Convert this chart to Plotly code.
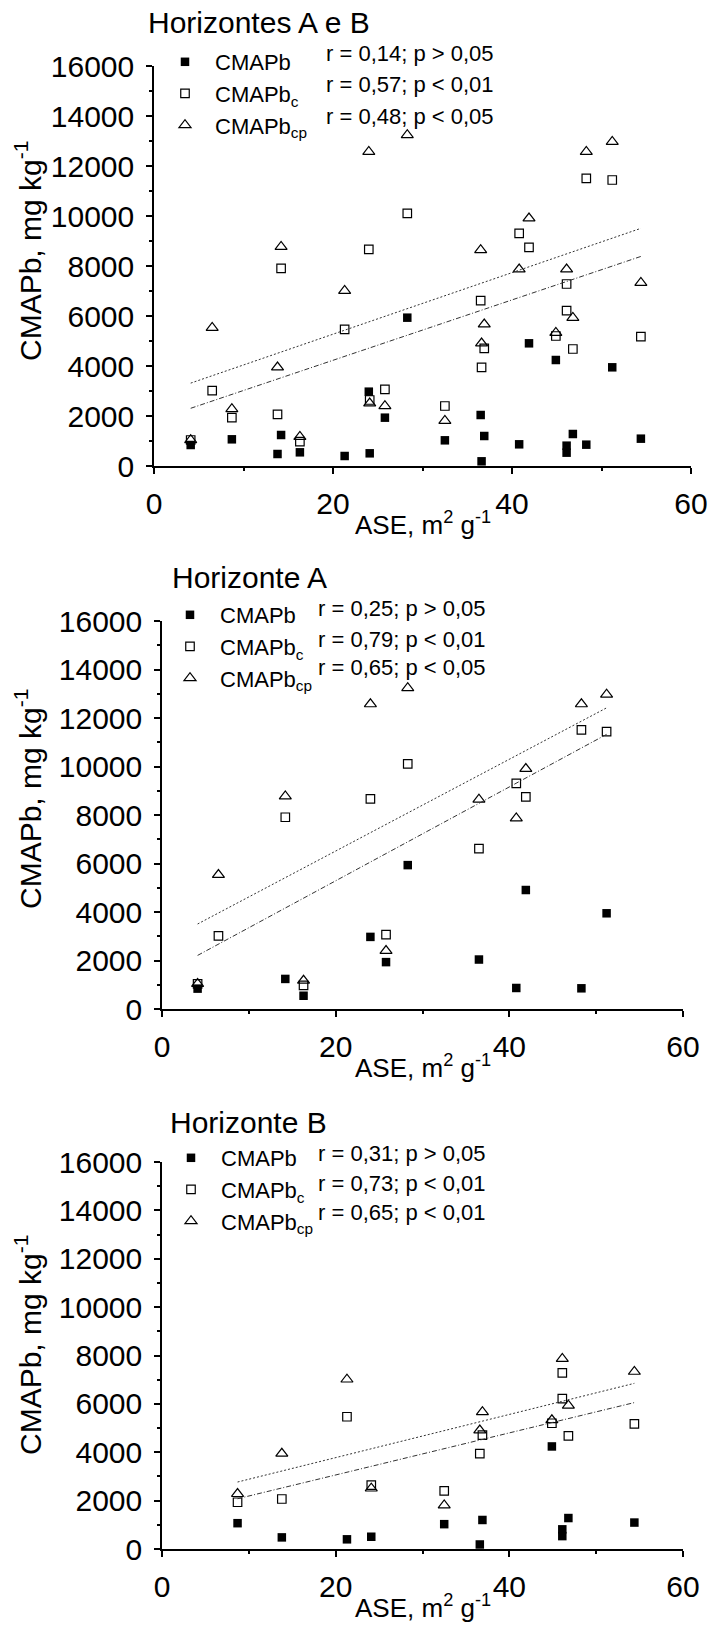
import numpy as np
import plotly.graph_objects as go

W, H = 712, 1631
FONT = "Liberation Sans, Arial, sans-serif"

# ---- Horizonte A: ASE (m2/g) and lead fractions (mg/kg) ----
ase_a = [4.1, 6.5, 14.2, 16.3, 24.0, 25.8, 28.3, 36.5, 40.8, 41.9, 48.3, 51.2]
cmapb_a = [840, None, 1240, 547, 2973, 1933, 5933, 2040, 867, 4907, 853, 3947]
cmapb_c_a = [1040, 3013, 7907, 973, 8667, 3067, 10107, 6613, 9307, 8747, 11507, 11440]
cmapb_cp_a = [1040, 5533, 8773, 1173, 12573, 2400, 13240, 8640, 7867, 9907, 12573, 12973]

# ---- Horizonte B ----
ase_b = [8.7, 13.8, 21.3, 24.1, 32.5, 36.6, 36.9, 44.9, 46.1, 46.1, 46.8, 54.4]
cmapb_b = [1067, 480, 400, 507, 1027, 187, 1200, 4240, 813, 533, 1280, 1093]
cmapb_c_b = [1933, 2067, 5467, 2640, 2400, 3947, 4707, 5200, 7280, 6213, 4680, 5173]
cmapb_cp_b = [2280, 3947, 7013, 2507, 1813, 4907, 5667, 5333, 7867, None, 5933, 7333]

panel_titles = ["Horizontes A e B", "Horizonte A", "Horizonte B"]
series_names = ["CMAPb", "CMAPb<sub>c</sub>", "CMAPb<sub>cp</sub>"]
stats_text = [
    ["r = 0,14; p > 0,05", "r = 0,57; p < 0,01", "r = 0,48; p < 0,05"],
    ["r = 0,25; p > 0,05", "r = 0,79; p < 0,01", "r = 0,65; p < 0,05"],
    ["r = 0,31; p > 0,05", "r = 0,73; p < 0,01", "r = 0,65; p < 0,01"],
]

panels_data = [
    (ase_a + ase_b, [cmapb_a + cmapb_b, cmapb_c_a + cmapb_c_b, cmapb_cp_a + cmapb_cp_b]),
    (ase_a, [cmapb_a, cmapb_c_a, cmapb_cp_a]),
    (ase_b, [cmapb_b, cmapb_c_b, cmapb_cp_b]),
]

# plot-area boxes in pixels: left, right, top, bottom
boxes = [(154, 691, 66, 466), (162, 683, 621, 1009), (162, 683, 1162, 1549)]
title_pos = [(259, 22), (249, 578), (248, 1122)]
legend_rows = [(59, 84, 117), (612, 639, 668), (1155, 1183, 1212)]
stats_rows = [(54, 84, 117), (608, 639, 668), (1153, 1183, 1212)]
legend_marker_x = [185, 190, 191]
stats_x = [324, 316, 316]
ytitle_y = [251, 799, 1345]

markers = [
    dict(symbol="square", size=8.5, color="black", line=dict(width=0)),
    dict(symbol="square-open", size=8.5, color="black", line=dict(width=1.2)),
    dict(symbol="triangle-up-open", size=10.5, color="black", line=dict(width=1.2)),
]
fit_styles = {1: "5px,2px,1px,2px", 2: "2px,2px"}

fig = go.Figure()
layout = dict(
    width=W, height=H,
    margin=dict(l=0, r=0, t=0, b=0, pad=0, autoexpand=False),
    paper_bgcolor="white", plot_bgcolor="white",
    font=dict(family=FONT, color="black"),
    showlegend=True,
)
annotations = []


def px_x(v):
    return v / W


def px_y(v):
    return 1 - v / H


for p, ((xs, ys_list), box) in enumerate(zip(panels_data, boxes)):
    sfx = "" if p == 0 else str(p + 1)
    xa, ya = "x" + sfx, "y" + sfx
    leg = "legend" + sfx
    for s, ys in enumerate(ys_list):
        pts = [(x, y) for x, y in zip(xs, ys) if y is not None]
        fig.add_trace(go.Scatter(
            x=[q[0] for q in pts], y=[q[1] for q in pts],
            mode="markers", marker=markers[s], name=series_names[s],
            xaxis=xa, yaxis=ya, legend=leg, cliponaxis=False,
        ))
    # least-squares lines for the two extracted fractions
    for s in (1, 2):
        pts = np.array([(x, y) for x, y in zip(xs, ys_list[s]) if y is not None], float)
        slope, icpt = np.polyfit(pts[:, 0], pts[:, 1], 1)
        xx = np.array([pts[:, 0].min(), pts[:, 0].max()])
        fig.add_trace(go.Scatter(
            x=xx, y=icpt + slope * xx, mode="lines",
            line=dict(color="#333333", width=1, dash=fit_styles[s]),
            xaxis=xa, yaxis=ya, showlegend=False, hoverinfo="skip",
        ))

    l, r, t, b = box
    common = dict(
        showline=True, linecolor="black", linewidth=1.5,
        ticks="outside", ticklen=6, tickwidth=1.5, tickcolor="black",
        showgrid=False, zeroline=False, automargin=False,
        tickfont=dict(family=FONT, size=30, color="black"),
    )
    layout["xaxis" + sfx] = dict(
        common, domain=[px_x(l), px_x(r)], range=[0, 60], dtick=20,
        minor=dict(ticks="outside", ticklen=3, tickwidth=1.5, tickcolor="black", dtick=10),
        anchor=ya, ticklabelstandoff=4,
    )
    layout["yaxis" + sfx] = dict(
        common, domain=[px_y(b), px_y(t)], range=[0, 16000], dtick=2000,
        tickformat="d",
        minor=dict(ticks="outside", ticklen=3, tickwidth=1.5, tickcolor="black", dtick=1000),
        anchor=xa, ticklabelstandoff=6,
    )
    layout[leg] = dict(
        x=px_x(legend_marker_x[p] - 30), y=px_y(legend_rows[p][0] - 18),
        xanchor="left", yanchor="top", bgcolor="rgba(0,0,0,0)",
        font=dict(family=FONT, size=22, color="black"),
        itemwidth=50, tracegroupgap=0, traceorder="normal",
    )

    tx, ty = title_pos[p]
    annotations.append(dict(
        text=panel_titles[p], x=px_x(tx), y=px_y(ty), xref="paper", yref="paper",
        xanchor="center", yanchor="middle", showarrow=False,
        font=dict(family=FONT, size=30, color="black"),
    ))
    for row, txt in zip(stats_rows[p], stats_text[p]):
        annotations.append(dict(
            text=txt, x=px_x(stats_x[p]), y=px_y(row), xref="paper", yref="paper",
            xanchor="left", yanchor="middle", showarrow=False,
            font=dict(family=FONT, size=22, color="black"),
        ))
    annotations.append(dict(
        text="CMAPb, mg kg<sup>-1</sup>", x=px_x(28), y=px_y(ytitle_y[p]),
        xref="paper", yref="paper", xanchor="center", yanchor="middle",
        textangle=-90, showarrow=False,
        font=dict(family=FONT, size=30, color="black"),
    ))
    annotations.append(dict(
        text="ASE, m<sup>2</sup> g<sup>-1</sup>", x=px_x((l + r) / 2), y=px_y(b + 57),
        xref="paper", yref="paper", xanchor="center", yanchor="middle",
        showarrow=False, font=dict(family=FONT, size=26, color="black"),
    ))

layout["annotations"] = annotations
fig.update_layout(**layout)
fig.write_html("out.html")
